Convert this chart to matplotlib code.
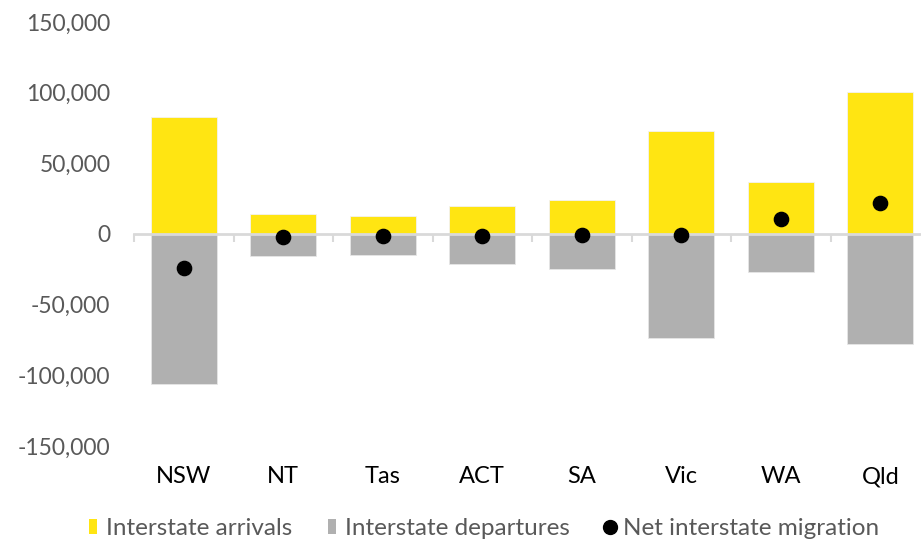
import matplotlib.pyplot as plt
import matplotlib.transforms as mtransforms
from matplotlib.lines import Line2D
from matplotlib.patches import Patch
from matplotlib.ticker import FuncFormatter
import numpy as np

plt.rcParams['font.family'] = ['Lato', 'DejaVu Sans']

# interstate migration by state/territory
states = ['NSW', 'NT', 'Tas', 'ACT', 'SA', 'Vic', 'WA', 'Qld']
arrivals = [82600, 14200, 13000, 19600, 24000, 73100, 37100, 100500]
departures = [-106300, -15800, -14600, -21000, -24700, -73400, -26600, -78000]
net = [-24300, -1800, -1600, -1300, -700, -800, 10300, 21800]

yellow = '#FFE512'
grey = '#B0B0B0'
text_grey = '#595959'

fig = plt.figure(figsize=(9.21, 5.47), dpi=100)
ax = fig.add_axes([134 / 921, 101 / 547, 796 / 921, 424 / 547])

x = np.arange(len(states))
ax.bar(x, arrivals, width=0.665, color=yellow, edgecolor='#F2F2F2', linewidth=0.6, zorder=2)
ax.bar(x, departures, width=0.665, color=grey, edgecolor='#E6E6E6', linewidth=0.6, zorder=2)
ax.scatter(x, net, s=105, color='black', zorder=4)

ax.set_xlim(-0.5, len(states) - 0.5)
ax.set_ylim(-150000, 150000)
ax.set_yticks(np.arange(-150000, 150001, 50000))
ax.yaxis.set_major_formatter(FuncFormatter(lambda v, p: f'{int(v):,}'))
ax.tick_params(axis='y', length=0, pad=17, labelsize=16.5, labelcolor=text_grey)

# horizontal axis sits on zero, with small ticks between categories
for s in ['top', 'right', 'left']:
    ax.spines[s].set_visible(False)
ax.spines['bottom'].set_position(('data', 0))
ax.spines['bottom'].set_color('#D9D9D9')
ax.spines['bottom'].set_linewidth(2)
ax.spines['bottom'].set_zorder(3)
ax.set_xticks(np.arange(-0.5, len(states), 1.0))
ax.tick_params(axis='x', direction='out', length=6, width=1.5, color='#D9D9D9', labelbottom=False)

# category names along the bottom of the plot
trans = mtransforms.blended_transform_factory(ax.transData, ax.transAxes)
for xi, name in zip(x, states):
    ax.text(xi, -0.073, name, transform=trans, ha='center', va='center', fontsize=17, color='black')

handles = [
    Patch(facecolor=yellow, edgecolor='none', label='Interstate arrivals'),
    Patch(facecolor=grey, edgecolor='none', label='Interstate departures'),
    Line2D([], [], marker='o', linestyle='none', markersize=10, color='black', label='Net interstate migration'),
]
leg = fig.legend(handles=handles, loc='center', bbox_to_anchor=(0.5255, 0.034), ncol=3, frameon=False,
                 fontsize=17.5, handlelength=0.34, handleheight=0.6, handletextpad=0.35, columnspacing=1.5)
for t in leg.get_texts():
    t.set_color(text_grey)

fig.savefig('out.png', dpi=100)
